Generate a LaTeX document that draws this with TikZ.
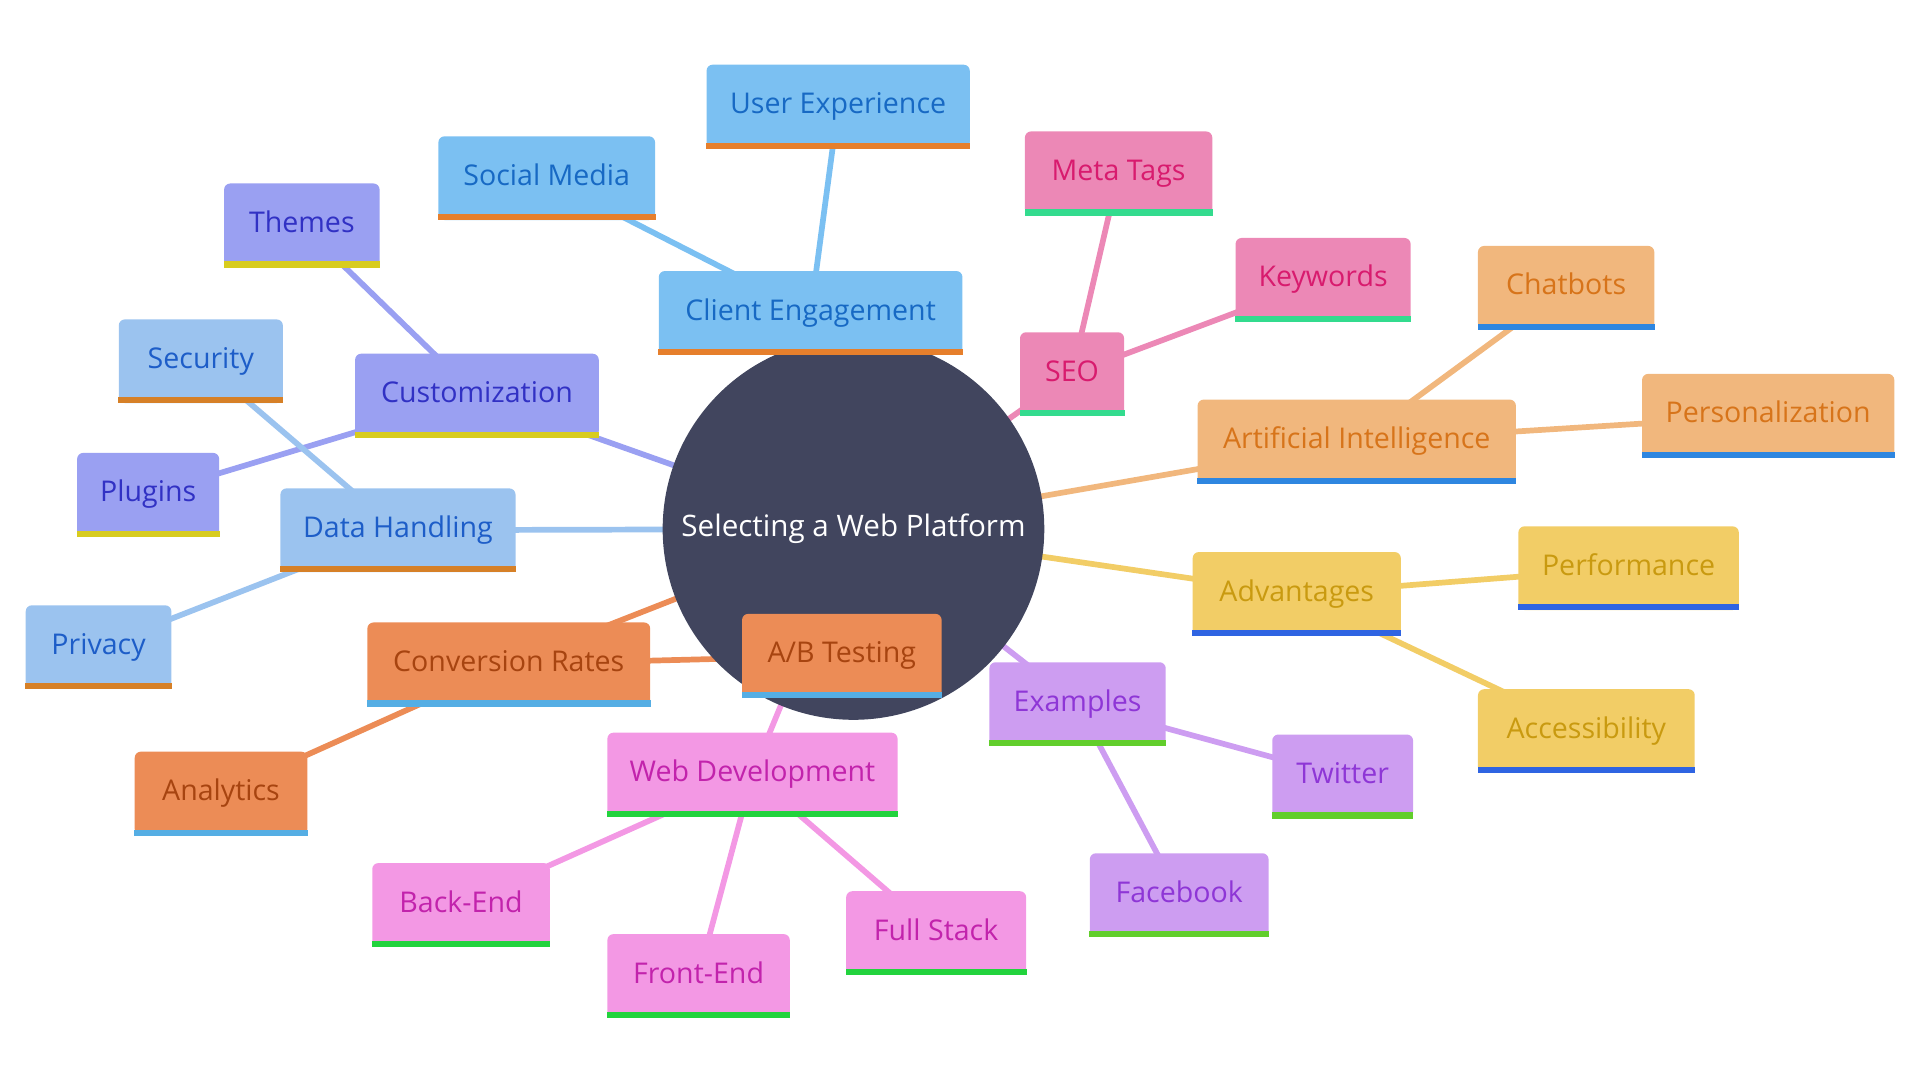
\documentclass[tikz,border=0pt]{standalone}
\usepackage{fontspec}
\setmainfont{Open Sans}
\usetikzlibrary{backgrounds}
\definecolor{rootFill}{HTML}{41455E}
\definecolor{ceFill}{HTML}{7BC0F2}\definecolor{ceText}{HTML}{1769C4}\definecolor{ceStripe}{HTML}{E67F2C}
\definecolor{seoFill}{HTML}{EC88B6}\definecolor{seoText}{HTML}{D81B6E}\definecolor{seoStripe}{HTML}{33DB8E}
\definecolor{cuFill}{HTML}{9AA0F2}\definecolor{cuText}{HTML}{3131C4}\definecolor{cuStripe}{HTML}{D8CC1F}
\definecolor{dhFill}{HTML}{9BC3EF}\definecolor{dhText}{HTML}{1D5DC8}\definecolor{dhStripe}{HTML}{D68027}
\definecolor{crFill}{HTML}{EC8C56}\definecolor{crText}{HTML}{A74410}\definecolor{crStripe}{HTML}{55AEE4}
\definecolor{wdFill}{HTML}{F398E4}\definecolor{wdText}{HTML}{C223AC}\definecolor{wdStripe}{HTML}{22D33D}
\definecolor{exFill}{HTML}{CD9DF1}\definecolor{exText}{HTML}{8E36D6}\definecolor{exStripe}{HTML}{62CE2C}
\definecolor{aiFill}{HTML}{F1B77D}\definecolor{aiText}{HTML}{D7741A}\definecolor{aiStripe}{HTML}{2E86E0}
\definecolor{adFill}{HTML}{F2CD66}\definecolor{adText}{HTML}{C99A10}\definecolor{adStripe}{HTML}{2F64E2}
\begin{document}
\begin{tikzpicture}[x=0.6pt,y=-0.6pt,
        box/.style={rounded corners=3pt,minimum height=41pt,inner sep=0pt,text height=11pt,text depth=4pt,font=\fontsize{14}{16}\selectfont},
        boxw/.style={minimum width=#1*0.6pt},
        engage/.style={box,fill=ceFill,text=ceText},
        seobox/.style={box,fill=seoFill,text=seoText},
        custom/.style={box,fill=cuFill,text=cuText},
        datah/.style={box,fill=dhFill,text=dhText},
        conv/.style={box,fill=crFill,text=crText},
        webdev/.style={box,fill=wdFill,text=wdText},
        examp/.style={box,fill=exFill,text=exText},
        artint/.style={box,fill=aiFill,text=aiText},
        advant/.style={box,fill=adFill,text=adText},
        link/.style={line width=2.8pt}]
    \useasboundingbox (0,0) rectangle (1568,882);
    % centre
    \node[circle,fill=rootFill,text=white,minimum size=187pt,inner sep=0pt,font=\fontsize{14.5}{16}\selectfont] (root) at (697,432) {Selecting a Web Platform};
    % client engagement
    \node[engage,boxw=215] (ue) at (684.5,87) {User Experience};
    \node[engage,boxw=177] (sm) at (446.5,145.5) {Social Media};
    \node[engage,boxw=248] (ce) at (662,255.5) {Client Engagement};
    % seo
    \node[seobox,boxw=153] (mt) at (913.5,141.5) {Meta Tags};
    \node[seobox,boxw=143] (kw) at (1080.5,228.5) {Keywords};
    \node[seobox,boxw=85] (seo) at (875.5,305.5) {SEO};
    % customization
    \node[custom,boxw=127] (th) at (246.5,184) {Themes};
    \node[custom,boxw=199] (cu) at (389.5,323) {Customization};
    \node[custom,boxw=116] (pl) at (121,404) {Plugins};
    % data handling
    \node[datah,boxw=134] (se) at (164,295) {Security};
    \node[datah,boxw=192] (dh) at (325,433) {Data Handling};
    \node[datah,boxw=119] (pr) at (80.5,528.5) {Privacy};
    % conversion rates
    \node[conv,boxw=231] (cr) at (415.5,542.5) {Conversion Rates};
    \node[conv,boxw=163] (ab) at (687.5,535.5) {A/B Testing};
    \node[conv,boxw=141] (an) at (180.5,648) {Analytics};
    % web development
    \node[webdev,boxw=237] (wd) at (614.5,632.5) {Web Development};
    \node[webdev,boxw=145] (be) at (376.5,739) {Back-End};
    \node[webdev,boxw=149] (fe) at (570.5,797) {Front-End};
    \node[webdev,boxw=147] (fs) at (764.5,762) {Full Stack};
    % examples
    \node[examp,boxw=144] (ex) at (880,575) {Examples};
    \node[examp,boxw=115] (tw) at (1096.5,634) {Twitter};
    \node[examp,boxw=146] (fb) at (963,731) {Facebook};
    % artificial intelligence
    \node[artint,boxw=260] (ai) at (1108,360.5) {Artificial Intelligence};
    \node[artint,boxw=144] (ch) at (1279,235) {Chatbots};
    \node[artint,boxw=206] (pe) at (1444,339.5) {Personalization};
    % advantages
    \node[advant,boxw=170] (ad) at (1059,485) {Advantages};
    \node[advant,boxw=180] (pf) at (1330,464) {Performance};
    \node[advant,boxw=177] (ac) at (1295.5,597) {Accessibility};
    % bottom bars
    \foreach \n in {ue,sm,ce} \fill[ceStripe] (\n.south west) rectangle ([yshift=3pt]\n.south east);
    \foreach \n in {mt,kw,seo} \fill[seoStripe] (\n.south west) rectangle ([yshift=3pt]\n.south east);
    \foreach \n in {th,cu,pl} \fill[cuStripe] (\n.south west) rectangle ([yshift=3pt]\n.south east);
    \foreach \n in {se,dh,pr} \fill[dhStripe] (\n.south west) rectangle ([yshift=3pt]\n.south east);
    \foreach \n in {cr,ab,an} \fill[crStripe] (\n.south west) rectangle ([yshift=3pt]\n.south east);
    \foreach \n in {wd,be,fe,fs} \fill[wdStripe] (\n.south west) rectangle ([yshift=3pt]\n.south east);
    \foreach \n in {ex,tw,fb} \fill[exStripe] (\n.south west) rectangle ([yshift=3pt]\n.south east);
    \foreach \n in {ai,ch,pe} \fill[aiStripe] (\n.south west) rectangle ([yshift=3pt]\n.south east);
    \foreach \n in {ad,pf,ac} \fill[adStripe] (\n.south west) rectangle ([yshift=3pt]\n.south east);
    % links, behind everything
    \begin{pgfonlayer}{background}
        \foreach \a/\b in {root/ce,ce/ue,ce/sm} \draw[link,ceFill] (\a.center) -- (\b.center);
        \foreach \a/\b in {root/seo,seo/mt,seo/kw} \draw[link,seoFill] (\a.center) -- (\b.center);
        \foreach \a/\b in {root/cu,cu/th,cu/pl} \draw[link,cuFill] (\a.center) -- (\b.center);
        \foreach \a/\b in {root/dh,dh/se,dh/pr} \draw[link,dhFill] (\a.center) -- (\b.center);
        \foreach \a/\b in {root/cr,cr/ab,cr/an} \draw[link,crFill] (\a.center) -- (\b.center);
        \foreach \a/\b in {root/wd,wd/be,wd/fe,wd/fs} \draw[link,wdFill] (\a.center) -- (\b.center);
        \foreach \a/\b in {root/ex,ex/tw,ex/fb} \draw[link,exFill] (\a.center) -- (\b.center);
        \foreach \a/\b in {root/ai,ai/ch,ai/pe} \draw[link,aiFill] (\a.center) -- (\b.center);
        \foreach \a/\b in {root/ad,ad/pf,ad/ac} \draw[link,adFill] (\a.center) -- (\b.center);
    \end{pgfonlayer}
\end{tikzpicture}
\end{document}
